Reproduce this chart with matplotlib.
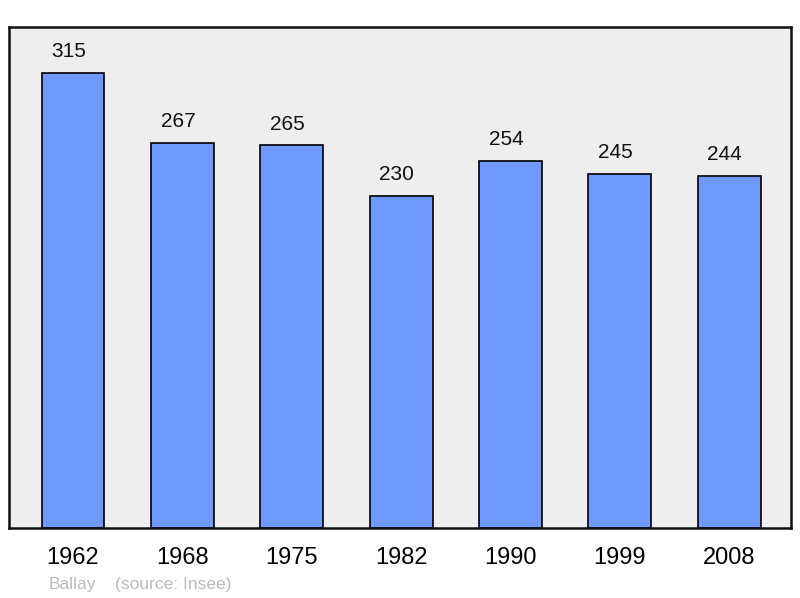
import matplotlib.pyplot as plt

plt.rcParams["font.family"] = ["Liberation Sans", "DejaVu Sans"]

years = ["1962", "1968", "1975", "1982", "1990", "1999", "2008"]
population = [315, 267, 265, 230, 254, 245, 244]

BAR_COLOR = "#7099ff"
BG_COLOR = "#eeeeee"

fig = plt.figure(figsize=(8, 5.98), dpi=100)
ax = fig.add_axes([0.01125, 0.117, 0.9775, 0.8378])
ax.set_facecolor(BG_COLOR)

x = list(range(len(years)))
bars = ax.bar(x, population, width=0.575, color=BAR_COLOR,
              edgecolor="black", linewidth=1.2, zorder=2)

for xi, val in zip(x, population):
    ax.annotate(str(val), (xi, val), xytext=(-3.2, 8.5), textcoords="offset points",
                ha="center", va="bottom", fontsize=15, color="#111111")

ax.set_xlim(-0.585, 6.565)
ax.set_ylim(0, 347)
ax.set_xticks(x)
ax.set_xticklabels(years, fontsize=17)
ax.tick_params(axis="x", length=0, pad=14)
ax.set_yticks([])
for s in ax.spines.values():
    s.set_linewidth(1.8)
    s.set_color("#111111")

fig.text(49 / 800, 1 - 584 / 598, "Ballay", fontsize=12.5, color="#bbbbbb",
         ha="left", va="center")
fig.text(115 / 800, 1 - 584 / 598, "(source: Insee)", fontsize=12.5, color="#bbbbbb",
         ha="left", va="center")

fig.savefig("out.png", dpi=100)
